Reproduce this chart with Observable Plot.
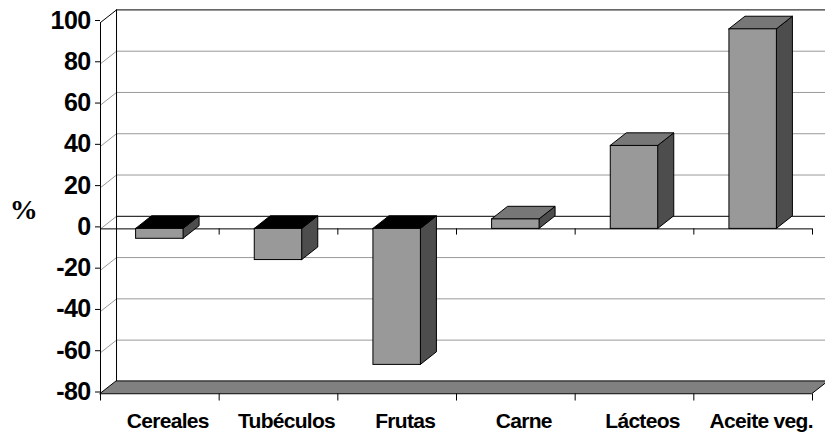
<!DOCTYPE html>
<html><head><meta charset="utf-8">
<script src="https://cdn.jsdelivr.net/npm/d3@7"></script>
<script src="https://cdn.jsdelivr.net/npm/@observablehq/plot@0.6"></script>
<style>
html,body{margin:0;padding:0;background:#fff} svg{display:block}
g[aria-label="text"] text{letter-spacing:-0.7px}
g[aria-label="y-axis tick label"] text{letter-spacing:-0.6px}
</style>
</head><body><div id="chart"></div>
<script>
const categories = ["Cereales", "Tubéculos", "Frutas", "Carne", "Lácteos", "Aceite veg."];
const values = [-4.8, -15.1, -65.9, 4.6, 40.2, 96.7];
const yTicks = [-80, -60, -40, -20, 0, 20, 40, 60, 80, 100];
const yLabel = "%";

const n = categories.length;
const yMin = -80, yMax = 100;
const DX = 0.135, DY = 6.1; // 3-D depth offset, in data units

const bars = categories.map((c, i) => ({c, i, v: values[i], x1: i + 0.3, x2: i + 0.7,
  lo: Math.min(0, values[i]), hi: Math.max(0, values[i])}));

const sideFaces = bars.flatMap(b => [
  {id: b.i, x: b.x2, y1: b.lo, y2: b.hi},
  {id: b.i, x: b.x2 + DX, y1: b.lo + DY, y2: b.hi + DY}
]);
const topFaces = bars.flatMap(b => [
  {id: b.i, neg: b.v < 0, y: b.hi, x1: b.x1, x2: b.x2},
  {id: b.i, neg: b.v < 0, y: b.hi + DY, x1: b.x1 + DX, x2: b.x2 + DX}
]);
const floor = [
  {y: yMin, x1: 0, x2: n},
  {y: yMin + DY, x1: DX, x2: n + DX}
];
const gridGrey = yTicks.filter(d => d !== yMin && d !== 0 && d !== yMax);
const bounds = d3.range(n + 1);

const chart = Plot.plot({
  width: 825, height: 434,
  marginLeft: 100, marginRight: 13, marginTop: 22, marginBottom: 40.5,
  style: {fontFamily: "'Liberation Sans', Arial, sans-serif", color: "#000", background: "#fff"},
  x: {domain: [0, n], axis: null},
  y: {domain: [yMin, yMax], axis: null},
  marks: [
    // back wall gridlines
    Plot.ruleY(gridGrey, {y: d => d + DY, x1: DX, x2: n + DX, stroke: "#999"}),
    Plot.ruleY([0, yMax], {y: d => d + DY, x1: DX, x2: n + DX, stroke: "#000"}),
    // side wall diagonals
    Plot.link(yTicks.filter(d => d !== yMax && d !== yMin), {x1: 0, y1: d => d, x2: DX, y2: d => d + DY, stroke: "#999"}),
    Plot.link([yMax], {x1: 0, y1: d => d, x2: DX, y2: d => d + DY, stroke: "#000"}),
    Plot.ruleX([DX], {y1: yMin + DY, y2: yMax + DY, stroke: "#000"}),
    // floor
    Plot.areaX(floor, {y: "y", x1: "x1", x2: "x2", fill: "#808080", stroke: "#000", strokeWidth: 1}),
    // front axes
    Plot.ruleX([0], {y1: yMin, y2: yMax, stroke: "#000"}),
    Plot.ruleY([0], {x1: 0, x2: n, stroke: "#000"}),
    Plot.ruleX(bounds, {x: d => d, y1: 0, y2: -3, stroke: "#000"}),
    Plot.ruleX(bounds, {x: d => d, y1: yMin, y2: yMin - 3.4, stroke: "#000"}),
    // bars
    Plot.areaY(sideFaces, {x: "x", y1: "y1", y2: "y2", z: "id", fill: "#4d4d4d", stroke: "#000", strokeWidth: 1, strokeLinejoin: "round"}),
    Plot.areaX(topFaces.filter(d => !d.neg), {y: "y", x1: "x1", x2: "x2", z: "id", fill: "#777", stroke: "#000", strokeWidth: 1, strokeLinejoin: "round"}),
    Plot.areaX(topFaces.filter(d => d.neg), {y: "y", x1: "x1", x2: "x2", z: "id", fill: "#000", stroke: "#000", strokeWidth: 1, strokeLinejoin: "round"}),
    Plot.rectY(bars, {x1: "x1", x2: "x2", y1: "lo", y2: "hi", fill: "#999", stroke: "#000", strokeWidth: 1}),
    // y axis
    Plot.axisY(yTicks, {tickSize: 5, tickPadding: 5, fontSize: 25, fontWeight: "bold", label: null, dy: -2, tickFormat: d => String(d)}),
    // category labels
    Plot.text(bars, {x: d => d.i + 0.5 + DX / 2, y: yMin, dy: 27, text: "c", fontSize: 21, fontWeight: "bold"}),
    // axis title
    Plot.text([yLabel], {frameAnchor: "left", y: () => 9, dx: -77, textAnchor: "middle", text: d => d, fontSize: 28, fontWeight: "bold", fontFamily: "'Liberation Serif', 'Times New Roman', serif"})
  ]
});
document.getElementById("chart").append(chart);
</script>
</body></html>
